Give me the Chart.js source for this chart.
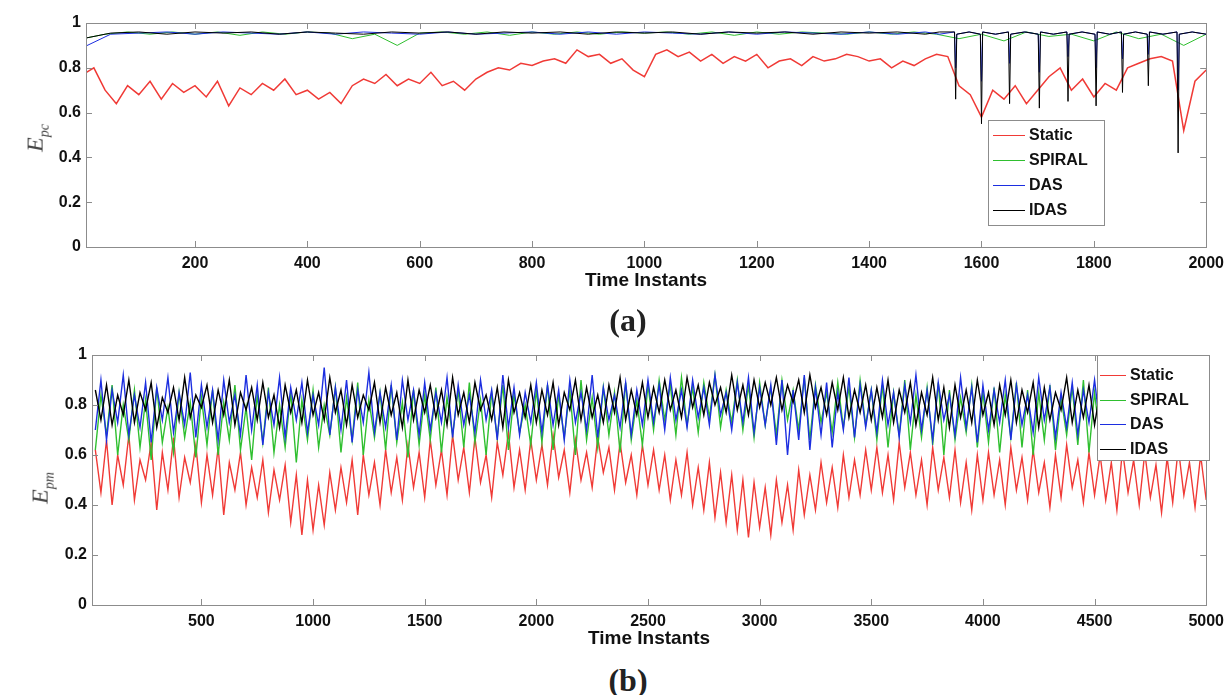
<!DOCTYPE html>
<html>
<head>
<meta charset="utf-8">
<script src="https://cdn.jsdelivr.net/npm/chart.js@4"></script>
<style>
  body { margin: 0; background: #fff; width: 1231px; height: 695px; position: relative; overflow: hidden; }
  .box { position: absolute; left: 0; width: 1231px; }
  #boxA { top: 0; height: 292px; }
  #boxB { top: 320px; height: 330px; }
  .cap { position: absolute; transform: translate(-50%, -50%); font-family: "Liberation Serif", "Times New Roman", serif; font-size: 32px; font-weight: bold; color: #222; }
  .ylab { position: absolute; transform: translate(-50%, -50%) rotate(-90deg); font-family: "Liberation Serif", "Times New Roman", serif; font-style: italic; font-size: 24px; color: #444; white-space: nowrap; }
  .ylab sub { font-size: 14px; }
</style>
</head>
<body>
<div class="box" id="boxA"><canvas id="chartA"></canvas></div>
<div class="box" id="boxB"><canvas id="chartB"></canvas></div>
<div class="ylab" style="left:37px;top:138px">E<sub>pc</sub></div>
<div class="ylab" style="left:42px;top:488px">E<sub>pm</sub></div>
<div class="cap" style="left:628px;top:320px">(a)</div>
<div class="cap" style="left:628px;top:680px">(b)</div>
<script>
const seriesNames = ["Static", "SPIRAL", "DAS", "IDAS"];
const yTicks = [0, 0.2, 0.4, 0.6, 0.8, 1];
const xTicksA = [200, 400, 600, 800, 1000, 1200, 1400, 1600, 1800, 2000];
const xTicksB = [500, 1000, 1500, 2000, 2500, 3000, 3500, 4000, 4500, 5000];

// (a) 2000 time instants
const staticAX = [
  0, 20, 40, 60, 80, 100, 120, 140, 160, 180, 200, 220, 240, 260, 280, 300, 320, 340, 360, 380,
  400, 420, 440, 460, 480, 500, 520, 540, 560, 580, 600, 620, 640, 660, 680, 700, 720, 740, 760, 780,
  800, 820, 840, 860, 880, 900, 920, 940, 960, 980, 1000, 1020, 1040, 1060, 1080, 1100, 1120, 1140, 1160, 1180,
  1200, 1220, 1240, 1260, 1280, 1300, 1320, 1340, 1360, 1380, 1400, 1420, 1440, 1460, 1480, 1500, 1520, 1540, 1560, 1580,
  1600, 1620, 1640, 1660, 1680, 1700, 1720, 1740, 1760, 1780, 1800, 1820, 1840, 1860, 1880, 1900, 1920, 1940, 1960, 1980, 2000
];
const staticA = [
  0.77, 0.80, 0.70, 0.64, 0.72, 0.68, 0.74, 0.66, 0.73, 0.69, 0.72, 0.67, 0.74, 0.63, 0.71, 0.68, 0.73, 0.70, 0.75, 0.68,
  0.70, 0.66, 0.69, 0.64, 0.72, 0.75, 0.73, 0.77, 0.72, 0.75, 0.73, 0.78, 0.72, 0.74, 0.70, 0.75, 0.78, 0.80, 0.79, 0.82,
  0.81, 0.83, 0.84, 0.82, 0.88, 0.85, 0.86, 0.82, 0.84, 0.79, 0.76, 0.86, 0.88, 0.85, 0.87, 0.83, 0.86, 0.82, 0.85, 0.83,
  0.86, 0.80, 0.83, 0.84, 0.81, 0.85, 0.83, 0.84, 0.86, 0.85, 0.83, 0.84, 0.80, 0.83, 0.81, 0.84, 0.86, 0.85, 0.72, 0.68,
  0.58, 0.70, 0.66, 0.72, 0.64, 0.70, 0.76, 0.80, 0.70, 0.75, 0.67, 0.73, 0.70, 0.80, 0.82, 0.84, 0.85, 0.83, 0.52, 0.74, 0.79
];
const spiralAX = [
  0, 40, 80, 120, 160, 200, 240, 280, 320, 360, 400, 440, 480, 520, 560, 600, 640, 680, 720, 760,
  800, 840, 880, 920, 960, 1000, 1040, 1080, 1120, 1160, 1200, 1240, 1280, 1320, 1360, 1400, 1440, 1480, 1520, 1560,
  1600, 1640, 1680, 1720, 1760, 1800, 1840, 1880, 1920, 1960, 2000
];
const spiralA = [
  0.93, 0.95, 0.96, 0.95, 0.96, 0.95, 0.96, 0.945, 0.96, 0.95, 0.96, 0.955, 0.93, 0.95, 0.90, 0.955, 0.96, 0.95, 0.96, 0.945,
  0.96, 0.95, 0.96, 0.95, 0.96, 0.955, 0.96, 0.95, 0.96, 0.945, 0.96, 0.95, 0.96, 0.955, 0.95, 0.96, 0.95, 0.96, 0.95, 0.93,
  0.95, 0.92, 0.96, 0.94, 0.95, 0.92, 0.96, 0.93, 0.95, 0.90, 0.95
];
const upperAX = [
  0, 50, 100, 150, 200, 250, 300, 350, 400, 450, 500, 550, 600, 650, 700, 750, 800, 850, 900, 950,
  1000, 1050, 1100, 1150, 1200, 1250, 1300, 1350, 1400, 1450, 1500,
  1525, 1552, 1554, 1556, 1578, 1598, 1600, 1602, 1625, 1648, 1650, 1652, 1677, 1701, 1703, 1705, 1728, 1752, 1754, 1756,
  1779, 1802, 1804, 1806, 1828, 1849, 1851, 1853, 1874, 1895, 1897, 1899, 1923, 1948, 1950, 1952, 1975, 2000
];
const dasA = [
  0.89, 0.95, 0.955, 0.96, 0.95, 0.96, 0.955, 0.95, 0.96, 0.95, 0.96, 0.955, 0.95, 0.96, 0.95, 0.955, 0.96, 0.95, 0.96, 0.95,
  0.96, 0.955, 0.95, 0.96, 0.95, 0.96, 0.955, 0.95, 0.96, 0.95, 0.96,
  0.95, 0.96, 0.80, 0.95, 0.96, 0.95, 0.74, 0.96, 0.95, 0.96, 0.82, 0.95, 0.96, 0.95, 0.78, 0.96, 0.95, 0.96, 0.85, 0.95,
  0.96, 0.95, 0.80, 0.96, 0.95, 0.96, 0.84, 0.95, 0.96, 0.95, 0.86, 0.96, 0.95, 0.96, 0.70, 0.95, 0.96, 0.95
];
const idasA = [
  0.93, 0.955, 0.96, 0.95, 0.96, 0.955, 0.96, 0.95, 0.96, 0.955, 0.95, 0.96, 0.955, 0.96, 0.95, 0.96, 0.955, 0.96, 0.95, 0.96,
  0.955, 0.96, 0.95, 0.96, 0.955, 0.96, 0.95, 0.96, 0.955, 0.96, 0.95,
  0.96, 0.96, 0.66, 0.95, 0.96, 0.95, 0.55, 0.96, 0.95, 0.96, 0.64, 0.95, 0.96, 0.95, 0.62, 0.96, 0.95, 0.96, 0.65, 0.95,
  0.96, 0.95, 0.63, 0.96, 0.95, 0.96, 0.69, 0.95, 0.96, 0.95, 0.72, 0.96, 0.95, 0.96, 0.42, 0.95, 0.96, 0.95
];

// (b) 5000 time instants
const timeB = [
  25, 50, 75, 100, 125, 150, 175, 200, 225, 250, 275, 300, 325, 350, 375, 400, 425, 450, 475, 500,
  525, 550, 575, 600, 625, 650, 675, 700, 725, 750, 775, 800, 825, 850, 875, 900, 925, 950, 975, 1000,
  1025, 1050, 1075, 1100, 1125, 1150, 1175, 1200, 1225, 1250, 1275, 1300, 1325, 1350, 1375, 1400, 1425, 1450, 1475, 1500,
  1525, 1550, 1575, 1600, 1625, 1650, 1675, 1700, 1725, 1750, 1775, 1800, 1825, 1850, 1875, 1900, 1925, 1950, 1975, 2000,
  2025, 2050, 2075, 2100, 2125, 2150, 2175, 2200, 2225, 2250, 2275, 2300, 2325, 2350, 2375, 2400, 2425, 2450, 2475, 2500,
  2525, 2550, 2575, 2600, 2625, 2650, 2675, 2700, 2725, 2750, 2775, 2800, 2825, 2850, 2875, 2900, 2925, 2950, 2975, 3000,
  3025, 3050, 3075, 3100, 3125, 3150, 3175, 3200, 3225, 3250, 3275, 3300, 3325, 3350, 3375, 3400, 3425, 3450, 3475, 3500,
  3525, 3550, 3575, 3600, 3625, 3650, 3675, 3700, 3725, 3750, 3775, 3800, 3825, 3850, 3875, 3900, 3925, 3950, 3975, 4000,
  4025, 4050, 4075, 4100, 4125, 4150, 4175, 4200, 4225, 4250, 4275, 4300, 4325, 4350, 4375, 4400, 4425, 4450, 4475, 4500,
  4525, 4550, 4575, 4600, 4625, 4650, 4675, 4700, 4725, 4750, 4775, 4800, 4825, 4850, 4875, 4900, 4925, 4950, 4975, 5000
];
const staticB = [
  0.62, 0.45, 0.66, 0.40, 0.60, 0.48, 0.68, 0.42, 0.58, 0.50, 0.65, 0.38, 0.61, 0.46, 0.67, 0.43, 0.59, 0.49, 0.64, 0.41,
  0.60, 0.44, 0.63, 0.36, 0.57, 0.46, 0.61, 0.40, 0.55, 0.43, 0.58, 0.37, 0.54, 0.42, 0.56, 0.33, 0.52, 0.28, 0.50, 0.30,
  0.48, 0.32, 0.53, 0.38, 0.55, 0.41, 0.58, 0.36, 0.60, 0.44, 0.57, 0.40, 0.62, 0.45, 0.59, 0.42, 0.64, 0.47, 0.61, 0.43,
  0.66, 0.48, 0.62, 0.44, 0.68, 0.50, 0.63, 0.45, 0.67, 0.49, 0.60, 0.43, 0.65, 0.52, 0.69, 0.47, 0.62, 0.46, 0.66, 0.50,
  0.64, 0.48, 0.68, 0.51, 0.62, 0.45, 0.66, 0.50, 0.61, 0.47, 0.67, 0.53, 0.63, 0.46, 0.65, 0.49, 0.60, 0.44, 0.64, 0.48,
  0.62, 0.46, 0.60, 0.42, 0.58, 0.44, 0.61, 0.40, 0.55, 0.38, 0.57, 0.35, 0.53, 0.33, 0.52, 0.30, 0.50, 0.27, 0.49, 0.31,
  0.47, 0.28, 0.50, 0.33, 0.48, 0.30, 0.54, 0.36, 0.52, 0.38, 0.57, 0.41, 0.55, 0.39, 0.60, 0.43, 0.58, 0.44, 0.62, 0.46,
  0.63, 0.45, 0.60, 0.42, 0.65, 0.47, 0.61, 0.44, 0.58, 0.40, 0.63, 0.46, 0.59, 0.43, 0.62, 0.41, 0.57, 0.38, 0.60, 0.42,
  0.61, 0.44, 0.58, 0.40, 0.63, 0.46, 0.59, 0.42, 0.62, 0.45, 0.57, 0.39, 0.60, 0.43, 0.64, 0.47, 0.58, 0.41, 0.61, 0.44,
  0.60, 0.42, 0.57, 0.38, 0.62, 0.45, 0.58, 0.40, 0.61, 0.43, 0.56, 0.37, 0.59, 0.41, 0.63, 0.44, 0.57, 0.39, 0.60, 0.42
];
const spiralB = [
  0.62, 0.84, 0.68, 0.88, 0.60, 0.80, 0.66, 0.86, 0.63, 0.82, 0.58, 0.87, 0.65, 0.79, 0.61, 0.85, 0.67, 0.81, 0.59, 0.83,
  0.64, 0.86, 0.60, 0.81, 0.66, 0.88, 0.62, 0.79, 0.58, 0.84, 0.65, 0.87, 0.61, 0.80, 0.63, 0.85, 0.57, 0.82, 0.66, 0.86,
  0.63, 0.80, 0.68, 0.87, 0.61, 0.83, 0.66, 0.89, 0.60, 0.82, 0.67, 0.85, 0.62, 0.88, 0.65, 0.81, 0.59, 0.86, 0.64, 0.84,
  0.66, 0.87, 0.61, 0.83, 0.68, 0.86, 0.63, 0.89, 0.65, 0.82, 0.60, 0.85, 0.67, 0.88, 0.62, 0.84, 0.69, 0.80, 0.64, 0.86,
  0.65, 0.88, 0.62, 0.84, 0.67, 0.86, 0.60, 0.90, 0.66, 0.83, 0.63, 0.87, 0.68, 0.85, 0.61, 0.89, 0.66, 0.82, 0.64, 0.88,
  0.70, 0.90, 0.74, 0.88, 0.68, 0.91, 0.72, 0.87, 0.69, 0.89, 0.75, 0.92, 0.71, 0.86, 0.73, 0.90, 0.70, 0.88, 0.67, 0.89,
  0.72, 0.87, 0.68, 0.90, 0.74, 0.86, 0.70, 0.91, 0.66, 0.88, 0.73, 0.85, 0.69, 0.89, 0.71, 0.87, 0.67, 0.90, 0.72, 0.86,
  0.66, 0.88, 0.63, 0.85, 0.68, 0.90, 0.62, 0.84, 0.67, 0.87, 0.64, 0.89, 0.60, 0.86, 0.66, 0.83, 0.69, 0.88, 0.63, 0.85,
  0.65, 0.87, 0.61, 0.84, 0.67, 0.89, 0.63, 0.86, 0.60, 0.85, 0.66, 0.88, 0.62, 0.83, 0.68, 0.87, 0.64, 0.90, 0.61, 0.85,
  0.66, 0.86, 0.63, 0.88, 0.60, 0.84, 0.67, 0.87, 0.62, 0.85, 0.65, 0.89, 0.61, 0.83, 0.68, 0.86, 0.64, 0.88, 0.62, 0.84
];
const dasB = [
  0.70, 0.90, 0.66, 0.86, 0.73, 0.92, 0.68, 0.84, 0.71, 0.89, 0.65, 0.87, 0.74, 0.91, 0.69, 0.85, 0.72, 0.93, 0.67, 0.88,
  0.71, 0.86, 0.66, 0.90, 0.73, 0.84, 0.68, 0.92, 0.70, 0.88, 0.64, 0.85, 0.72, 0.91, 0.67, 0.87, 0.74, 0.89, 0.69, 0.84,
  0.72, 0.95, 0.68, 0.87, 0.70, 0.90, 0.65, 0.86, 0.73, 0.93, 0.69, 0.85, 0.71, 0.88, 0.66, 0.90, 0.74, 0.86, 0.68, 0.89,
  0.70, 0.85, 0.73, 0.91, 0.67, 0.88, 0.72, 0.84, 0.69, 0.90, 0.74, 0.86, 0.66, 0.92, 0.71, 0.87, 0.68, 0.85, 0.73, 0.89,
  0.69, 0.88, 0.72, 0.86, 0.66, 0.90, 0.73, 0.85, 0.70, 0.92, 0.67, 0.87, 0.74, 0.84, 0.71, 0.89, 0.68, 0.86, 0.72, 0.90,
  0.73, 0.88, 0.70, 0.91, 0.74, 0.86, 0.71, 0.90, 0.75, 0.87, 0.72, 0.92, 0.76, 0.85, 0.70, 0.89, 0.73, 0.91, 0.69, 0.87,
  0.72, 0.88, 0.64, 0.90, 0.60, 0.86, 0.66, 0.92, 0.62, 0.87, 0.68, 0.89, 0.63, 0.85, 0.70, 0.91, 0.67, 0.88, 0.71, 0.86,
  0.69, 0.90, 0.72, 0.85, 0.67, 0.88, 0.73, 0.92, 0.70, 0.86, 0.66, 0.89, 0.74, 0.84, 0.68, 0.91, 0.71, 0.87, 0.65, 0.88,
  0.70, 0.86, 0.73, 0.90, 0.66, 0.88, 0.72, 0.84, 0.69, 0.91, 0.74, 0.87, 0.67, 0.85, 0.71, 0.89, 0.68, 0.86, 0.73, 0.90,
  0.71, 0.87, 0.68, 0.85, 0.73, 0.90, 0.66, 0.86, 0.72, 0.88, 0.69, 0.84, 0.74, 0.89, 0.67, 0.87, 0.70, 0.85, 0.72, 0.88
];
const idasB = [
  0.86, 0.74, 0.88, 0.72, 0.84, 0.76, 0.90, 0.73, 0.85, 0.78, 0.89, 0.71, 0.83, 0.77, 0.87, 0.74, 0.91, 0.75, 0.84, 0.79,
  0.88, 0.73, 0.86, 0.76, 0.90, 0.72, 0.85, 0.78, 0.87, 0.74, 0.89, 0.75, 0.84, 0.71, 0.88, 0.77, 0.86, 0.73, 0.90, 0.76,
  0.85, 0.74, 0.91, 0.77, 0.86, 0.72, 0.88, 0.75, 0.84, 0.78, 0.89, 0.73, 0.87, 0.76, 0.85, 0.71, 0.90, 0.74, 0.86, 0.77,
  0.88, 0.75, 0.86, 0.72, 0.91, 0.76, 0.85, 0.73, 0.89, 0.78, 0.84, 0.74, 0.87, 0.71, 0.90, 0.77, 0.85, 0.75, 0.88, 0.73,
  0.86, 0.76, 0.89, 0.72, 0.85, 0.78, 0.90, 0.74, 0.87, 0.75, 0.84, 0.73, 0.88, 0.77, 0.91, 0.74, 0.86, 0.76, 0.89, 0.75,
  0.87, 0.77, 0.90, 0.78, 0.86, 0.75, 0.91, 0.79, 0.88, 0.76, 0.89, 0.80, 0.87, 0.77, 0.92, 0.78, 0.88, 0.76, 0.90, 0.79,
  0.89, 0.80, 0.91, 0.78, 0.88, 0.81, 0.90, 0.77, 0.92, 0.79, 0.87, 0.76, 0.89, 0.78, 0.91, 0.75, 0.86, 0.77, 0.88, 0.74,
  0.87, 0.75, 0.90, 0.73, 0.86, 0.77, 0.89, 0.72, 0.85, 0.76, 0.91, 0.74, 0.87, 0.71, 0.88, 0.75, 0.86, 0.73, 0.90, 0.76,
  0.85, 0.72, 0.88, 0.76, 0.90, 0.73, 0.86, 0.77, 0.89, 0.71, 0.87, 0.74, 0.85, 0.78, 0.91, 0.73, 0.86, 0.75, 0.88, 0.72,
  0.86, 0.76, 0.89, 0.73, 0.85, 0.77, 0.88, 0.74, 0.90, 0.72, 0.87, 0.75, 0.84, 0.78, 0.89, 0.73, 0.86, 0.76, 0.88, 0.74
];

const colors = ["#f03a36", "#2fbf2f", "#1c2ee0", "#000000"];
const tickFont = { family: '"Liberation Sans", Arial, sans-serif', size: 16, weight: "bold" };

function pts(xs, ys) {
  return xs.map((x, i) => ({ x, y: ys[i] }));
}

function lineSet(i, xs, ys, width) {
  return {
    label: seriesNames[i],
    data: pts(xs, ys),
    borderColor: colors[i],
    borderWidth: width,
    pointRadius: 0,
    tension: 0,
    order: 4 - i
  };
}

// box around the axes with MATLAB style inward ticks
const framePlugin = {
  id: "frame",
  afterDatasetsDraw(chart) {
    const { ctx, chartArea: a, scales } = chart;
    ctx.save();
    ctx.strokeStyle = "#8c8c8c";
    ctx.lineWidth = 1;
    ctx.beginPath();
    scales.x.ticks.forEach((t) => {
      const px = Math.round(scales.x.getPixelForValue(t.value)) + 0.5;
      ctx.moveTo(px, a.bottom); ctx.lineTo(px, a.bottom - 6);
      ctx.moveTo(px, a.top); ctx.lineTo(px, a.top + 6);
    });
    scales.y.ticks.forEach((t) => {
      const py = Math.round(scales.y.getPixelForValue(t.value)) + 0.5;
      ctx.moveTo(a.left, py); ctx.lineTo(a.left + 6, py);
      ctx.moveTo(a.right, py); ctx.lineTo(a.right - 6, py);
    });
    ctx.stroke();
    ctx.strokeRect(Math.round(a.left) + 0.5, Math.round(a.top) + 0.5, Math.round(a.right - a.left), Math.round(a.bottom - a.top));
    ctx.restore();
  }
};

const boxLegend = {
  id: "boxLegend",
  afterDraw(chart, args, o) {
    if (!o || !o.w) return;
    const ctx = chart.ctx;
    ctx.save();
    ctx.fillStyle = "#fff";
    ctx.fillRect(o.x, o.y, o.w, o.h);
    ctx.strokeStyle = "#8c8c8c";
    ctx.lineWidth = 1;
    ctx.strokeRect(o.x + 0.5, o.y + 0.5, o.w, o.h);
    ctx.font = 'bold 16px "Liberation Sans", Arial, sans-serif';
    ctx.textBaseline = "middle";
    seriesNames.forEach((name, i) => {
      const y = Math.round(o.y + o.first + i * o.step) + 0.5;
      ctx.strokeStyle = colors[i];
      ctx.beginPath();
      ctx.moveTo(o.x + o.lineFrom, y);
      ctx.lineTo(o.x + o.lineTo, y);
      ctx.stroke();
      ctx.fillStyle = "#111";
      ctx.fillText(name, o.x + o.textX, y);
    });
    ctx.restore();
  }
};

function makeChart(id, datasets, xTicks, xMin, xMax, yWidth, padTop, padRight, legend) {
  return new Chart(document.getElementById(id), {
    type: "line",
    data: { datasets },
    options: {
      responsive: true,
      maintainAspectRatio: false,
      animation: false,
      layout: { padding: { top: padTop, right: padRight, left: 0, bottom: 0 } },
      plugins: { legend: { display: false }, tooltip: { enabled: false }, boxLegend: legend },
      scales: {
        x: {
          type: "linear",
          min: xMin,
          max: xMax,
          grid: { display: false, drawTicks: false },
          border: { display: false },
          afterBuildTicks: (s) => { s.ticks = xTicks.map((v) => ({ value: v })); },
          afterFit: (s) => { s.height = 45; },
          ticks: { font: tickFont, color: "#111", padding: 7, maxRotation: 0, autoSkip: false, callback: (v) => String(v) },
          title: { display: true, text: "Time Instants", font: { family: tickFont.family, size: 19, weight: "bold" }, color: "#111", padding: 0 }
        },
        y: {
          min: 0,
          max: 1,
          grid: { display: false, drawTicks: false },
          border: { display: false },
          afterBuildTicks: (s) => { s.ticks = yTicks.map((v) => ({ value: v })); },
          afterFit: (s) => { s.width = yWidth; },
          ticks: { font: tickFont, color: "#111", padding: 5, callback: (v) => String(v) }
        }
      }
    },
    plugins: [framePlugin, boxLegend]
  });
}

makeChart("chartA", [
  lineSet(0, staticAX, staticA, 1.5),
  lineSet(1, spiralAX, spiralA, 1),
  lineSet(2, upperAX, dasA, 1),
  lineSet(3, upperAX, idasA, 1)
], xTicksA, 6, 2000, 86, 23, 20,
  { x: 988, y: 120, w: 116, h: 105, first: 15, step: 25, lineFrom: 5, lineTo: 37, textX: 41 });

makeChart("chartB", [
  lineSet(0, timeB, staticB, 1.4),
  lineSet(1, timeB, spiralB, 1.4),
  lineSet(2, timeB, dasB, 1.4),
  lineSet(3, timeB, idasB, 1.4)
], xTicksB, 10, 5000, 92, 35, 22,
  { x: 1097, y: 35, w: 112, h: 105, first: 20, step: 24.5, lineFrom: 3, lineTo: 29, textX: 33 });
</script>
</body>
</html>
